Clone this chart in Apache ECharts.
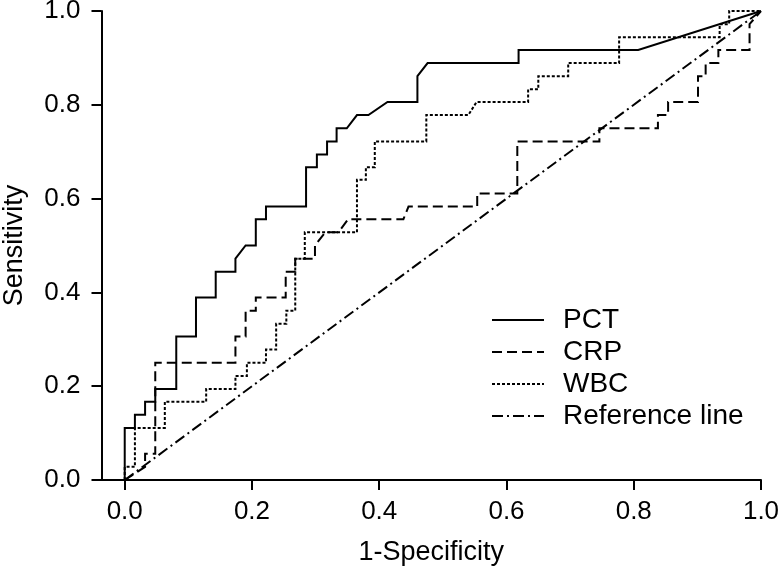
<!DOCTYPE html>
<html>
<head>
<meta charset="utf-8">
<script src="https://cdn.jsdelivr.net/npm/echarts@6/dist/echarts.min.js"></script>
<style>
html,body{margin:0;padding:0;background:#fff;}
#chart{width:782px;height:574px;}
</style>
</head>
<body>
<div id="chart"></div>
<script>
const seriesNames = ['PCT', 'CRP', 'WBC', 'Reference line'];
const tickValues = [0, 0.2, 0.4, 0.6, 0.8, 1.0];

const pctPoints = [
  [0,0],[0,0.111],[0.016,0.111],[0.016,0.139],[0.032,0.139],[0.032,0.167],[0.048,0.167],[0.048,0.194],
  [0.081,0.194],[0.081,0.306],[0.112,0.306],[0.112,0.389],[0.143,0.389],[0.143,0.444],[0.174,0.444],
  [0.174,0.472],[0.19,0.5],[0.206,0.5],[0.206,0.556],[0.222,0.556],[0.222,0.583],[0.285,0.583],
  [0.285,0.667],[0.302,0.667],[0.302,0.694],[0.318,0.694],[0.318,0.722],[0.333,0.722],[0.333,0.75],
  [0.349,0.75],[0.365,0.778],[0.383,0.778],[0.413,0.806],[0.460,0.806],[0.460,0.861],[0.476,0.889],
  [0.619,0.889],[0.619,0.917],[0.807,0.917],[1,1]
];

const crpPoints = [
  [0,0],[0.032,0.028],[0.032,0.056],[0.048,0.056],[0.048,0.25],[0.174,0.25],[0.174,0.306],[0.19,0.306],
  [0.19,0.361],[0.206,0.361],[0.206,0.389],[0.253,0.389],[0.253,0.444],[0.268,0.444],[0.268,0.472],
  [0.299,0.472],[0.299,0.5],[0.315,0.528],[0.336,0.528],[0.351,0.556],[0.438,0.556],[0.446,0.583],
  [0.554,0.583],[0.554,0.611],[0.617,0.611],[0.617,0.722],[0.746,0.722],[0.746,0.75],[0.838,0.75],
  [0.838,0.778],[0.854,0.778],[0.854,0.806],[0.901,0.806],[0.901,0.861],[0.913,0.861],[0.913,0.889],
  [0.933,0.889],[0.933,0.917],[0.982,0.917],[0.982,0.972],[1,1]
];

const wbcPoints = [
  [0,0],[0,0.028],[0.016,0.028],[0.016,0.111],[0.063,0.111],[0.063,0.167],[0.128,0.167],[0.128,0.194],
  [0.174,0.194],[0.174,0.222],[0.192,0.222],[0.192,0.25],[0.222,0.25],[0.222,0.278],[0.238,0.278],
  [0.238,0.333],[0.254,0.333],[0.254,0.361],[0.268,0.361],[0.268,0.472],[0.283,0.472],[0.283,0.528],
  [0.365,0.528],[0.365,0.64],[0.379,0.64],[0.379,0.667],[0.393,0.667],[0.393,0.722],[0.474,0.722],
  [0.474,0.778],[0.540,0.778],[0.553,0.806],[0.634,0.806],[0.634,0.833],[0.65,0.833],[0.65,0.861],
  [0.697,0.861],[0.697,0.889],[0.777,0.889],[0.777,0.944],[0.935,0.944],[0.935,0.972],[0.95,0.972],
  [0.95,1],[1,1]
];

const referencePoints = [[0,0],[1,1]];

const FONT = '"Liberation Sans", Arial, Helvetica, sans-serif';
const chart = echarts.init(document.getElementById('chart'), null, {renderer: 'canvas'});

function lineSeries(name, data, type) {
  return {
    name: name,
    type: 'line',
    data: data,
    symbol: 'none',
    showSymbol: false,
    animation: false,
    silent: true,
    lineStyle: {color: '#000', width: 2, type: type, cap: 'butt', join: 'miter'},
    itemStyle: {color: '#000'}
  };
}

chart.setOption({
  backgroundColor: '#fff',
  animation: false,
  grid: {left: 101.5, right: 21, top: 11, bottom: 94, containLabel: false, outerBoundsMode: 'none'},
  legend: {
    data: seriesNames,
    orient: 'vertical',
    left: 491,
    top: 306,
    padding: 0,
    itemWidth: 52,
    itemHeight: 14,
    itemGap: 4,
    itemStyle: {color: 'rgba(0,0,0,0)', borderWidth: 0, opacity: 0},
    textStyle: {fontFamily: FONT, fontSize: 28, color: '#000', lineHeight: 28, padding: [0,0,0,14]},
    inactiveColor: '#000'
  },
  xAxis: {
    type: 'value',
    min: -0.0365,
    max: 1,
    name: '1-Specificity',
    nameLocation: 'middle',
    nameGap: 59,
    nameTextStyle: {fontFamily: FONT, fontSize: 27, color: '#000'},
    axisLine: {onZero: false, lineStyle: {color: '#000', width: 2}},
    axisTick: {show: true, inside: false, length: 10, customValues: tickValues, lineStyle: {color: '#000', width: 2}},
    axisLabel: {customValues: tickValues, margin: 19, fontFamily: FONT, fontSize: 26, color: '#000',
      formatter: v => v.toFixed(1)},
    splitLine: {show: false}
  },
  yAxis: {
    type: 'value',
    min: 0,
    max: 1,
    interval: 0.2,
    name: 'Sensitivity',
    nameLocation: 'middle',
    nameGap: 73,
    nameRotate: 90,
    nameTextStyle: {fontFamily: FONT, fontSize: 27, color: '#000'},
    axisLine: {onZero: false, lineStyle: {color: '#000', width: 2}},
    axisTick: {show: true, inside: false, length: 10, lineStyle: {color: '#000', width: 2}},
    axisLabel: {margin: 21, fontFamily: FONT, fontSize: 26, color: '#000',
      formatter: v => v.toFixed(1)},
    splitLine: {show: false}
  },
  series: [
    lineSeries('PCT', pctPoints, 'solid'),
    lineSeries('CRP', crpPoints, [10, 5]),
    lineSeries('WBC', wbcPoints, [3, 2]),
    lineSeries('Reference line', referencePoints, [11, 4, 2, 4])
  ]
});
</script>
</body>
</html>
